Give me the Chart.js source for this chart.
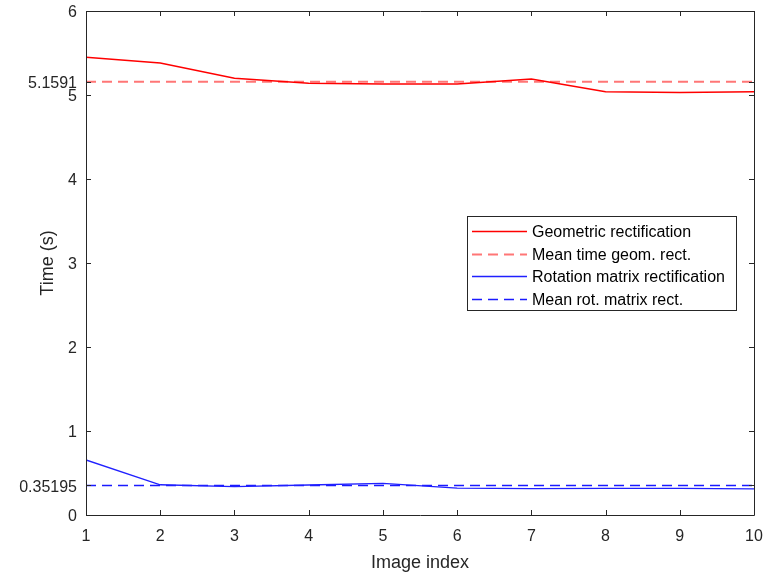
<!DOCTYPE html>
<html>
<head>
<meta charset="utf-8">
<script src="https://cdn.jsdelivr.net/npm/chart.js@4"></script>
<style>
  html, body { margin: 0; padding: 0; background: #fff; }
  #wrap { width: 767px; height: 578px; }
</style>
</head>
<body>
<div id="wrap"><canvas id="timeChart"></canvas></div>
<script>
// Data
const imageIndex = [1, 2, 3, 4, 5, 6, 7, 8, 9, 10];
const geomTimes = [5.45, 5.38, 5.20, 5.14, 5.13, 5.13, 5.19, 5.04, 5.03, 5.04];
const rotTimes = [0.655, 0.36, 0.337, 0.357, 0.377, 0.32, 0.315, 0.318, 0.318, 0.31];
const geomMean = 5.1591;
const rotMean = 0.35195;
const yTickValues = [0, 0.35195, 1, 2, 3, 4, 5, 5.1591, 6];
const yTickLabels = ['0', '0.35195', '1', '2', '3', '4', '5', '5.1591', '6'];
const xTickValues = imageIndex;

const axisColor = '#262626';
const fontFamily = '"Liberation Sans", Arial, sans-serif';

function seriesPoints(values) {
    return imageIndex.map((x, i) => ({ x: x, y: values[i] }));
}

function meanPoints(value) {
    return [
        { x: imageIndex[0], y: value },
        { x: imageIndex[imageIndex.length - 1], y: value }
    ];
}

// MATLAB-style box with ticks pointing inward
const boxAxes = {
    id: 'boxAxes',
    afterDatasetsDraw(chart) {
        const { ctx, chartArea: a, scales } = chart;
        const tl = 5;
        ctx.save();
        ctx.strokeStyle = axisColor;
        ctx.lineWidth = 1;
        ctx.beginPath();
        ctx.rect(a.left + 0.5, a.top + 0.5, a.right - a.left, a.bottom - a.top);
        scales.x.ticks.forEach(t => {
            const px = Math.round(scales.x.getPixelForValue(t.value)) + 0.5;
            ctx.moveTo(px, a.bottom); ctx.lineTo(px, a.bottom - tl);
            ctx.moveTo(px, a.top); ctx.lineTo(px, a.top + tl);
        });
        scales.y.ticks.forEach(t => {
            const py = Math.round(scales.y.getPixelForValue(t.value)) + 0.5;
            ctx.moveTo(a.left, py); ctx.lineTo(a.left + tl, py);
            ctx.moveTo(a.right, py); ctx.lineTo(a.right - tl, py);
        });
        ctx.stroke();
        ctx.restore();
    }
};

// Legend box inside the axes
const boxLegend = {
    id: 'boxLegend',
    afterDraw(chart) {
        const { ctx, chartArea: a } = chart;
        const x0 = a.left + 381, y0 = a.top + 205, w = 269, h = 94;
        const rowH = 22.5;
        ctx.save();
        ctx.fillStyle = '#fff';
        ctx.fillRect(x0, y0, w, h);
        ctx.strokeStyle = axisColor;
        ctx.lineWidth = 1;
        ctx.strokeRect(x0 + 0.5, y0 + 0.5, w, h);
        ctx.font = '16px ' + fontFamily;
        ctx.textBaseline = 'middle';
        chart.data.datasets.forEach((ds, i) => {
            const cy = Math.round(y0 + 15 + i * rowH) + 0.5;
            ctx.strokeStyle = ds.borderColor;
            ctx.lineWidth = ds.borderWidth;
            ctx.setLineDash(ds.borderDash || []);
            ctx.beginPath();
            ctx.moveTo(x0 + 5, cy);
            ctx.lineTo(x0 + 60, cy);
            ctx.stroke();
            ctx.setLineDash([]);
            ctx.fillStyle = '#000';
            ctx.fillText(ds.label, x0 + 65, cy + 1);
        });
        ctx.restore();
    }
};

new Chart('timeChart', {
    type: 'line',
    data: {
        datasets: [{
            label: 'Geometric rectification',
            data: seriesPoints(geomTimes),
            borderColor: '#ff0000',
            borderWidth: 1.5
        }, {
            label: 'Mean time geom. rect.',
            data: meanPoints(geomMean),
            borderColor: 'rgba(255, 60, 60, 0.7)',
            borderWidth: 2,
            borderDash: [10, 6]
        }, {
            label: 'Rotation matrix rectification',
            data: seriesPoints(rotTimes),
            borderColor: '#2020ff',
            borderWidth: 1.3
        }, {
            label: 'Mean rot. matrix rect.',
            data: meanPoints(rotMean),
            borderColor: '#1a1aff',
            borderWidth: 1.5,
            borderDash: [10, 6]
        }]
    },
    options: {
        animation: false,
        responsive: true,
        maintainAspectRatio: false,
        elements: {
            point: { radius: 0, hoverRadius: 0 },
            line: { tension: 0 }
        },
        layout: { padding: { top: 11, right: 13, left: 0, bottom: 0 } },
        plugins: {
            legend: { display: false },
            tooltip: { enabled: false }
        },
        scales: {
            x: {
                type: 'linear',
                min: 1,
                max: 10,
                afterBuildTicks: scale => {
                    scale.ticks = xTickValues.map(v => ({ value: v }));
                },
                afterFit: scale => {
                    scale.height = 63;
                    scale.paddingLeft = 0;
                    scale.paddingRight = 0;
                },
                grid: { display: false, drawTicks: false },
                border: { display: false },
                ticks: {
                    autoSkip: false,
                    maxRotation: 0,
                    padding: 12,
                    color: axisColor,
                    font: { family: fontFamily, size: 16 }
                },
                title: {
                    display: true,
                    text: 'Image index',
                    color: axisColor,
                    padding: { top: 0, bottom: 4 },
                    font: { family: fontFamily, size: 18 }
                }
            },
            y: {
                type: 'linear',
                min: 0,
                max: 6,
                afterBuildTicks: scale => {
                    scale.ticks = yTickValues.map(v => ({ value: v }));
                },
                afterFit: scale => {
                    scale.width = 86;
                    scale.paddingTop = 0;
                    scale.paddingBottom = 0;
                },
                grid: { display: false, drawTicks: false },
                border: { display: false },
                ticks: {
                    autoSkip: false,
                    padding: 9,
                    labelOffset: 2,
                    color: axisColor,
                    font: { family: fontFamily, size: 16 },
                    callback: (value) => {
                        const i = yTickValues.indexOf(value);
                        return i >= 0 ? yTickLabels[i] : '';
                    }
                },
                title: {
                    display: true,
                    text: 'Time (s)',
                    color: axisColor,
                    padding: { top: 37, bottom: 0 },
                    font: { family: fontFamily, size: 18 }
                }
            }
        }
    },
    plugins: [boxAxes, boxLegend]
});
</script>
</body>
</html>
